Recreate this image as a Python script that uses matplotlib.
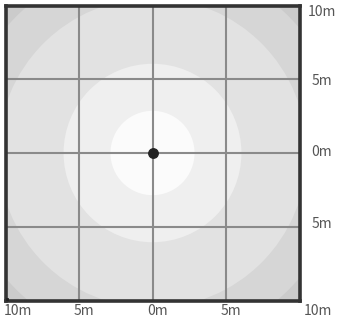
import matplotlib
matplotlib.use("Agg")
import matplotlib.pyplot as plt
from matplotlib.patches import Circle

# Data
ring_radii = [13.1, 10.5, 6.05, 2.86]          # metres
ring_colors = ["#d6d6d6", "#e2e2e2", "#efefef", "#fbfbfb"]
background_color = "#cbcbcb"
grid_ticks = [-10, -5, 0, 5, 10]
bottom_labels = ["10m", "5m", "0m", "5m", "10m"]
right_ticks = [10, 5, 0, -5]
right_labels = ["10m", "5m", "0m", "5m"]

W, H = 338, 323
fig = plt.figure(figsize=(W / 100, H / 100), dpi=100)
plt.rcParams['font.family'] = ['Noto Sans CJK JP', 'DejaVu Sans']

# axes box in pixels (left, top, right, bottom)
l, t, r, b = 5.5, 5.5, 299.5, 300.5
ax = fig.add_axes([l / W, 1 - b / H, (r - l) / W, (b - t) / H])
ax.set_xlim(-10, 10)
ax.set_ylim(-10, 10)
ax.set_facecolor(background_color)
ax.set_xticks([])
ax.set_yticks([])

for rad, col in zip(ring_radii, ring_colors):
    ax.add_patch(Circle((0, 0), rad, facecolor=col, edgecolor="none", zorder=1))

for v in grid_ticks[1:-1]:
    ax.axvline(v, color="#8a8a8a", lw=1.5, zorder=2)
    ax.axhline(v, color="#8a8a8a", lw=1.5, zorder=2)

ax.plot([0], [0], "o", color="#222222", markersize=6.8, zorder=3)
ax.plot([-9.9], [-9.9], "s", color="#222222", markersize=1.2, zorder=3)

for s in ax.spines.values():
    s.set_color("#333333")
    s.set_linewidth(2.6)

# bottom labels
bx_off = [12.5, 5, 5.5, 5, 18.5]
for v, lab, dx in zip(grid_ticks, bottom_labels, bx_off):
    ax.annotate(lab, xy=(v, -10), xytext=(dx, -10.5), textcoords="offset pixels",
                ha="center", va="center", fontsize=10, color="#555555",
                annotation_clip=False)

# right labels
ry_off = [-7, -1.7, 1.5, 2.7]
for v, lab, dy in zip(right_ticks, right_labels, ry_off):
    ax.annotate(lab, xy=(10, v), xytext=(22.5, dy), textcoords="offset pixels",
                ha="center", va="center", fontsize=10, color="#555555",
                annotation_clip=False)

fig.savefig("out.png", dpi=100, facecolor="white")
